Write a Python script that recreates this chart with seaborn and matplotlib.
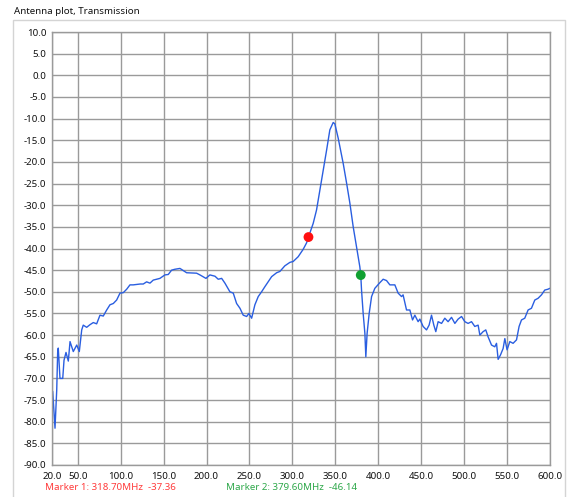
import matplotlib
matplotlib.use("Agg")
import matplotlib.pyplot as plt
import seaborn as sns
import pandas as pd
from matplotlib.patches import Rectangle

freq_mhz = [20.8, 23.5, 25.5, 26.6, 27.3, 29.3, 32.5, 34.0, 36.3, 39.0, 41.0, 44.8, 48.8, 51.8,
            54.6, 56.4, 60.4, 64.2, 68.1, 72.0, 75.9, 79.7, 83.7, 87.5, 91.4, 95.3, 99.2, 103.0,
            107.0, 110.8, 114.6, 122.8, 126.3, 130.2, 134.1, 137.9, 145.7, 151.5, 155.4, 159.3,
            163.0, 169.0, 172.9, 176.8, 188.4, 192.3, 199.3, 203.9, 209.8, 213.6, 217.6, 221.4,
            227.2, 231.1, 235.0, 238.9, 242.7, 246.7, 249.3, 252.5, 256.3, 260.2, 264.1, 268.0,
            271.8, 275.8, 281.6, 285.4, 291.2, 297.1, 300.9, 306.7, 312.5, 316.5, 318.7, 324.2,
            328.1, 332.0, 335.8, 339.8, 343.6, 347.5, 349.4, 353.3, 359.1, 363.1, 366.9, 370.8,
            374.7, 378.5, 379.6, 380.5, 382.4, 384.4, 385.5, 387.0, 389.4, 392.2, 396.0, 401.8,
            405.7, 409.6, 413.5, 419.3, 423.1, 427.1, 428.9, 432.9, 436.8, 439.9, 442.6, 446.4,
            448.4, 452.2, 456.2, 459.2, 462.0, 464.7, 467.0, 469.7, 473.7, 477.5, 481.3, 485.3,
            489.2, 493.0, 497.0, 500.8, 504.6, 508.6, 512.4, 516.3, 518.3, 522.1, 525.2, 527.9,
            531.9, 535.7, 537.7, 539.6, 542.3, 545.4, 547.4, 550.0, 553.2, 557.0, 561.0, 564.0,
            566.8, 570.6, 574.5, 578.4, 582.3, 586.1, 590.1, 593.9, 597.7, 599.7]
level_db = [-73.0, -81.5, -72.7, -64.0, -63.0, -70.0, -70.0, -65.8, -64.0, -66.0, -61.5, -63.8, -62.3, -63.8,
            -58.8, -57.7, -58.2, -57.6, -57.1, -57.4, -55.4, -55.6, -54.2, -53.0, -52.7, -51.9, -50.3, -50.2,
            -49.4, -48.4, -48.4, -48.2, -48.2, -47.7, -48.0, -47.3, -46.9, -46.1, -46.0, -45.0,
            -44.8, -44.6, -45.1, -45.6, -45.7, -46.1, -46.9, -46.1, -46.4, -47.1, -46.9, -48.0,
            -50.0, -50.3, -52.7, -53.8, -55.4, -55.7, -55.0, -56.1, -53.0, -51.1, -50.0, -48.8,
            -47.7, -46.5, -45.6, -45.3, -44.0, -43.2, -43.0, -41.9, -40.2, -38.7, -37.36, -34.2,
            -31.1, -26.5, -21.9, -17.3, -12.6, -10.9, -11.2, -14.5, -20.3, -24.9, -29.5, -35.0,
            -39.6, -44.2, -46.14, -49.6, -55.0, -59.6, -65.0, -59.6, -55.0, -51.1, -49.2, -47.9,
            -47.1, -47.4, -48.4, -48.4, -50.3, -51.1, -50.7, -54.2, -54.2, -56.5, -55.4, -56.9,
            -56.3, -58.0, -58.8, -57.7, -55.4, -57.7, -59.2, -56.9, -57.3, -56.1, -56.9, -55.9,
            -57.3, -56.3, -55.7, -56.9, -57.3, -56.9, -58.0, -57.7, -60.0, -59.2, -58.8, -60.4,
            -62.3, -62.7, -61.9, -65.6, -64.6, -63.1, -60.8, -63.4, -61.5, -61.9, -61.1, -58.0,
            -56.5, -56.1, -54.2, -53.8, -51.9, -51.5, -50.7, -49.6, -49.4, -49.2]

marker_freq = [318.7, 379.6]
marker_level = [-37.36, -46.14]
marker_colors = ["#ff1010", "#10a030"]
marker_text_colors = ["#ff3b3b", "#2ea84a"]
marker_labels = ["Marker 1: 318.70MHz  -37.36", "Marker 2: 379.60MHz  -46.14"]

x_ticks = [20, 50, 100, 150, 200, 250, 300, 350, 400, 450, 500, 550, 600]
y_ticks = list(range(10, -95, -5))
title = "Antenna plot, Transmission"

sns.set_style("white")
plt.rcParams['font.family'] = ['Noto Sans', 'DejaVu Sans']

W, H = 574, 497
fig = plt.figure(figsize=(W / 100, H / 100), dpi=100)
fig.patch.set_facecolor("white")

# outer panel border
fig.patches.append(Rectangle((13 / W, -0.01), (565 - 13) / W, (H - 20) / H + 0.01,
                             transform=fig.transFigure, fill=False,
                             edgecolor="#d4d4d4", linewidth=1))
fig.text(14 / W, 1 - 12 / H, title, ha="left", va="center", fontsize=7, color="#111111")

ax = fig.add_axes([52 / W, 32 / H, 498 / W, 433 / H])
df = pd.DataFrame({"freq": freq_mhz, "level": level_db})
sns.lineplot(data=df, x="freq", y="level", ax=ax, sort=False, color="#2a5ee0",
             linewidth=1.0, estimator=None)

mdf = pd.DataFrame({"freq": marker_freq, "level": marker_level, "m": ["1", "2"]})
sns.scatterplot(data=mdf, x="freq", y="level", hue="m", palette=marker_colors, ax=ax,
                s=50, edgecolor="none", legend=False, zorder=5)

ax.set_xlim(20, 600)
ax.set_ylim(-90, 10)
ax.set_xticks(x_ticks)
ax.set_xticklabels([f"{v:.1f}" for v in x_ticks])
ax.set_yticks(y_ticks)
ax.set_yticklabels([f"{v:.1f}" for v in y_ticks])
ax.set_xlabel("")
ax.set_ylabel("")
ax.grid(True, color="#9a9a9a", linewidth=1.0)
ax.set_axisbelow(True)
for s in ax.spines.values():
    s.set_color("#9a9a9a")
    s.set_linewidth(1.0)
ax.tick_params(axis="both", which="major", length=3, width=1, color="#777777",
               labelsize=7, labelcolor="#111111", pad=1)
ax.tick_params(axis="x", pad=2)

for i, lab in enumerate(marker_labels):
    xs = [45, 226][i]
    fig.text(xs / W, 1 - 487 / H, lab, ha="left", va="center", fontsize=7,
             color=marker_text_colors[i])

fig.savefig("out.png", dpi=100)
